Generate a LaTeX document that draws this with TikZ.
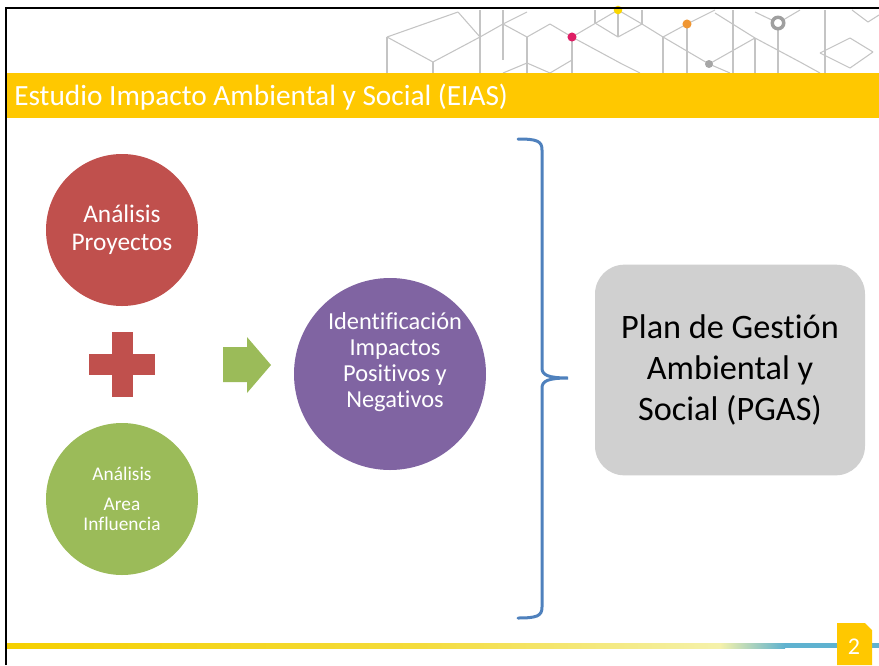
\documentclass[tikz,border=0pt]{standalone}
\usepackage{fontspec}
\setmainfont[Ligatures={NoCommon}]{Carlito}
\usepackage{xcolor}
\usetikzlibrary{positioning, shapes.geometric}

\definecolor{slideyellow}{RGB}{255,200,0}
\definecolor{eiasred}{RGB}{192,80,77}
\definecolor{eiasgreen}{RGB}{155,187,89}
\definecolor{eiaspurple}{RGB}{128,100,162}
\definecolor{eiasblue}{RGB}{79,129,189}
\definecolor{pgasgray}{RGB}{208,208,208}
\definecolor{hexgray}{RGB}{196,196,196}
\definecolor{dotpink}{RGB}{222,30,100}
\definecolor{dotorange}{RGB}{240,150,50}
\definecolor{dotyellow}{RGB}{250,215,0}
\definecolor{linegold}{RGB}{245,208,0}
\definecolor{linepale}{RGB}{242,238,150}
\definecolor{lineblue}{RGB}{95,178,208}

\begin{document}
\begin{tikzpicture}[
    x=0.75pt, y=-0.75pt,
    every node/.style={inner sep=0pt},
    bubble/.style={circle, minimum size=114pt, text=white, align=center},
    hexline/.style={hexgray, line width=0.8pt},
    bracket/.style={eiasblue, line width=2.25pt, line cap=round},
    pgasbox/.style={rounded corners=22pt, fill=pgasgray, minimum width=202.5pt, minimum height=158pt},
]
\useasboundingbox (0,0) rectangle (879,665);

% === HEX PATTERN (top right) ===
\foreach \xa/\ya/\xb/\yb in {387/37/458/12, 458/12/480/37, 387/37/433/62, 433/62/480/37,
    387/37/387/73, 433/62/433/73, 480/10/480/73, 480/37/503/24, 503/24/527/12,
    503/24/527/37, 527/37/550/24, 503/10/503/60, 527/37/527/73, 503/73/527/63,
    527/63/550/73, 550/24/572/37, 572/37/618/10, 572/37/572/73, 572/37/622/64,
    622/64/640/73, 550/73/572/60, 595/10/595/23, 595/23/618/37, 618/10/618/37,
    618/37/642/24, 618/10/642/24, 642/10/642/24, 642/24/663/37, 663/37/687/24,
    663/37/663/73, 687/24/687/73, 687/24/715/10, 663/37/709/64, 709/64/730/73,
    709/64/755/38, 715/13/755/38, 733/10/733/73, 755/38/755/73, 778/23/778/73,
    778/23/800/10, 755/12/778/23, 825/10/825/73, 755/38/800/62, 800/62/820/73,
    820/53/850/38, 850/38/873/52, 873/52/850/68, 850/68/820/53, 852/10/868/22,
    868/22/879/15}
  \draw[hexline] (\xa,\ya) -- (\xb,\yb);
\fill[dotyellow] (618,10) circle (3.2pt);
\fill[dotpink] (572,37) circle (3.4pt);
\fill[dotorange] (687,24) circle (3.4pt);
\fill[gray!70] (709,64) circle (3pt);
\fill[white] (778,23) circle (5pt);
\draw[gray!75, line width=2.6pt] (778,23) circle (4.3pt);

% === FRAME + TITLE BAND ===
\draw[black, line width=1.6pt] (6,665) -- (6,8) -- (879,8);
\fill[slideyellow] (7,73) rectangle (879,118);
\node[anchor=base west, text=white, font=\fontsize{22}{26}\selectfont] (title) at (14,105)
    {Estudio Impacto Ambiental y Social (EIAS)};

% === LEFT COLUMN ===
\node[bubble, fill=eiasred, font=\fontsize{19}{21}\selectfont] (proy) at (122,230)
    {Análisis\\Proyectos};
\fill[eiasred] (112,332) rectangle (133,397);
\fill[eiasred] (89,354) rectangle (155,375);
\node[bubble, fill=eiasgreen, font=\fontsize{14.5}{15}\selectfont] (area) at (122,499)
    {Análisis\\[7pt]Area\\Influencia};

% green arrow
\fill[eiasgreen] (223,347) -- (247,347) -- (247,337) -- (271,365) -- (247,393)
    -- (247,382) -- (223,382) -- cycle;

% === IMPACTS ===
\node[circle, fill=eiaspurple, minimum size=144pt] (ident) at (390,374) {};
\node[text=white, align=center, font=\fontsize{18.3}{19.5}\selectfont] (identtxt)
    at (395,362) {Identificación\\Impactos\\Positivos y\\Negativos};

% brace
\coordinate (bracetop) at (518,139);
\coordinate (bracetip) at (568,378);
\coordinate (bracebot) at (518,618);
\draw[bracket] (bracetop) .. controls (537,139) and (542,141) .. (542,150) -- (542,368)
    .. controls (542,375) and (548,378) .. (bracetip)
    .. controls (548,378) and (542,381) .. (542,388) -- (542,607)
    .. controls (542,616) and (537,618) .. (bracebot);

% === PGAS ===
\node[pgasbox] (pgas) at (730,370) {};
\node[align=center, font=\fontsize{25.7}{30.4}\selectfont] (pgastxt) at (pgas.center)
    {Plan de Gestión\\Ambiental y\\Social (PGAS)};

% === FOOTER ===
\shade[left color=linegold, right color=linegold!60!linepale] (7,643) rectangle (420,648);
\shade[left color=linegold!60!linepale, right color=linepale!80] (420,643) rectangle (720,648);
\shade[left color=linepale!80, right color=lineblue] (720,643) rectangle (785,648);
\fill[lineblue] (785,643) rectangle (879,648);
\fill[slideyellow] (837,623) -- (865,623) -- (872,630) -- (872,665) -- (837,665) -- cycle;
\node[text=white, font=\fontsize{18}{20}\selectfont] (pagenum) at (854,647) {2};

\end{tikzpicture}
\end{document}
